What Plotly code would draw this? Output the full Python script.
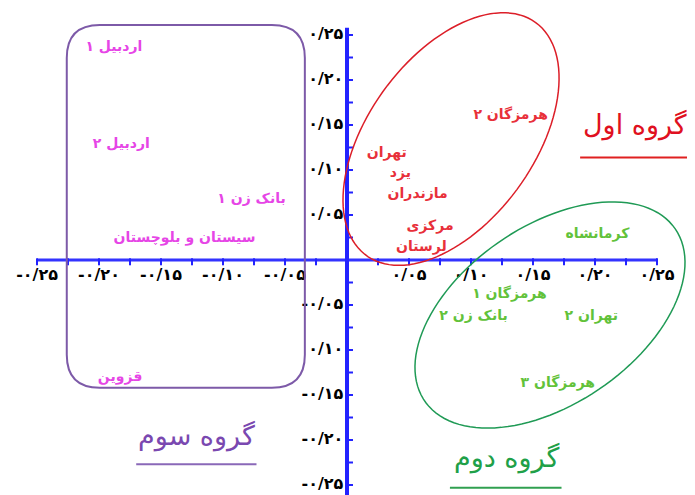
import numpy as np
import plotly.graph_objects as go

# گروه سوم
g3_names = ["اردبیل ۱", "اردبیل ۲", "بانک زن ۱", "سیستان و بلوچستان", "قزوین"]
g3_x = [-0.188, -0.182, -0.077, -0.131, -0.183]
g3_y = [0.236, 0.128, 0.067, 0.024, -0.130]

# گروه اول
g1_names = ["هرمزگان ۲", "تهران", "یزد", "مازندران", "مرکزی", "لرستان"]
g1_x = [0.132, 0.032, 0.043, 0.057, 0.067, 0.060]
g1_y = [0.161, 0.118, 0.096, 0.073, 0.037, 0.014]

# گروه دوم
g2_names = ["کرمانشاه", "هرمزگان ۱", "بانک زن ۲", "تهران ۲", "هرمزگان ۳"]
g2_x = [0.202, 0.131, 0.102, 0.197, 0.170]
g2_y = [0.028, -0.038, -0.063, -0.063, -0.137]

x_tick_vals = [-0.25, -0.20, -0.15, -0.10, -0.05, 0.05, 0.10, 0.15, 0.20, 0.25]
x_tick_text = ["-۰/۲۵", "-۰/۲۰", "-۰/۱۵", "-۰/۱۰", "-۰/۰۵",
               "۰/۰۵", "۰/۱۰", "۰/۱۵", "۰/۲۰", "۰/۲۵"]
y_tick_vals = [0.25, 0.20, 0.15, 0.10, 0.05, -0.05, -0.10, -0.15, -0.20, -0.25]
y_tick_text = ["۰/۲۵", "۰/۲۰", "۰/۱۵", "۰/۱۰", "۰/۰۵",
               "-۰/۰۵", "۰/۱۰", "-۰/۱۵", "-۰/۲۰", "-۰/۲۵"]
minor_ticks = [i * 0.025 for i in range(-10, 11) if i != 0]

FONT = "DejaVu Sans"
KX, KY = 1240.0, 900.0  # pixels per unit on each axis


def ellipse_path(cx, cy, a, b, deg):
    # a, b in pixels, rotation measured on screen
    t = np.linspace(0, 2 * np.pi, 120)
    th = np.radians(deg)
    dx = a * np.cos(t) * np.cos(th) - b * np.sin(t) * np.sin(th)
    dy = a * np.cos(t) * np.sin(th) + b * np.sin(t) * np.cos(th)
    xs = cx + dx / KX
    ys = cy + dy / KY
    pts = " L ".join(f"{x:.5f},{y:.5f}" for x, y in zip(xs, ys))
    return "M " + pts + " Z"


def rounded_rect(x0, y0, x1, y1, r):
    rx, ry = r / KX, r / KY
    return (f"M {x0+rx},{y1} L {x1-rx},{y1} Q {x1},{y1} {x1},{y1-ry} "
            f"L {x1},{y0+ry} Q {x1},{y0} {x1-rx},{y0} "
            f"L {x0+rx},{y0} Q {x0},{y0} {x0},{y0+ry} "
            f"L {x0},{y1-ry} Q {x0},{y1} {x0+rx},{y1} Z")


fig = go.Figure()

# axes
fig.add_trace(go.Scatter(x=[-0.25, 0.25], y=[0, 0], mode="lines",
                         line=dict(color="#3333ff", width=3), hoverinfo="skip"))
fig.add_trace(go.Scatter(x=[0, 0], y=[0.258, -0.27], mode="lines",
                         line=dict(color="#2222ff", width=4), hoverinfo="skip"))
fig.add_trace(go.Scatter(x=minor_ticks, y=[-0.002] * len(minor_ticks), mode="markers",
                         marker=dict(symbol="line-ns", size=5, line=dict(color="#2222ff", width=2)),
                         hoverinfo="skip"))
fig.add_trace(go.Scatter(x=[0.002] * len(minor_ticks), y=minor_ticks, mode="markers",
                         marker=dict(symbol="line-ew", size=5, line=dict(color="#2222ff", width=2)),
                         hoverinfo="skip"))

# tick labels
fig.add_trace(go.Scatter(x=x_tick_vals, y=[-0.018] * len(x_tick_vals), mode="text",
                         text=x_tick_text, textposition="middle center",
                         textfont=dict(family=FONT, size=16, color="black", weight="bold"),
                         hoverinfo="skip"))
fig.add_trace(go.Scatter(x=[-0.003] * len(y_tick_vals), y=y_tick_vals, mode="text",
                         text=y_tick_text, textposition="middle left",
                         textfont=dict(family=FONT, size=16, color="black", weight="bold"),
                         hoverinfo="skip"))

# group labels
for xs, ys, names, col in [(g3_x, g3_y, g3_names, "#e645e6"),
                           (g1_x, g1_y, g1_names, "#e8303a"),
                           (g2_x, g2_y, g2_names, "#62c23a")]:
    fig.add_trace(go.Scatter(x=xs, y=ys, mode="text", text=names,
                             textposition="middle center",
                             textfont=dict(family=FONT, size=14, color=col, weight="bold"),
                             hoverinfo="skip"))

shapes = [
    dict(type="path", path=rounded_rect(-0.226, -0.142, -0.034, 0.261, 33),
         line=dict(color="#7d5aa8", width=2)),
    dict(type="path", path=ellipse_path(0.0839, 0.1344, 144, 83, 54),
         line=dict(color="#dc1e28", width=1.5)),
    dict(type="path", path=ellipse_path(0.1637, -0.0611, 152, 89, 34.5),
         line=dict(color="#1f9a55", width=1.5)),
    dict(type="line", x0=0.188, x1=0.278, y0=0.114, y1=0.114,
         line=dict(color="#e02020", width=2)),
    dict(type="line", x0=0.083, x1=0.173, y0=-0.253, y1=-0.253,
         line=dict(color="#30a050", width=2)),
    dict(type="line", x0=-0.170, x1=-0.073, y0=-0.227, y1=-0.227,
         line=dict(color="#8a68b8", width=2)),
]

annotations = [
    dict(x=0.232, y=0.150, text="گروه اول", showarrow=False,
         font=dict(family=FONT, size=27, color="#e01020")),
    dict(x=0.129, y=-0.220, text="گروه دوم", showarrow=False,
         font=dict(family=FONT, size=27, color="#20a048")),
    dict(x=-0.121, y=-0.196, text="گروه سوم", showarrow=False,
         font=dict(family=FONT, size=27, color="#7a48b0")),
]

# page has an 8px body margin, so the ranges are shifted to keep the axes in place
fig.update_layout(
    width=695, height=495,
    margin=dict(l=0, r=0, t=0, b=0),
    plot_bgcolor="white", paper_bgcolor="white",
    showlegend=False,
    shapes=shapes, annotations=annotations,
    xaxis=dict(range=[-0.2734, 0.2871], visible=False),
    yaxis=dict(range=[-0.27, 0.28], visible=False),
)

fig.write_html("out.html")
